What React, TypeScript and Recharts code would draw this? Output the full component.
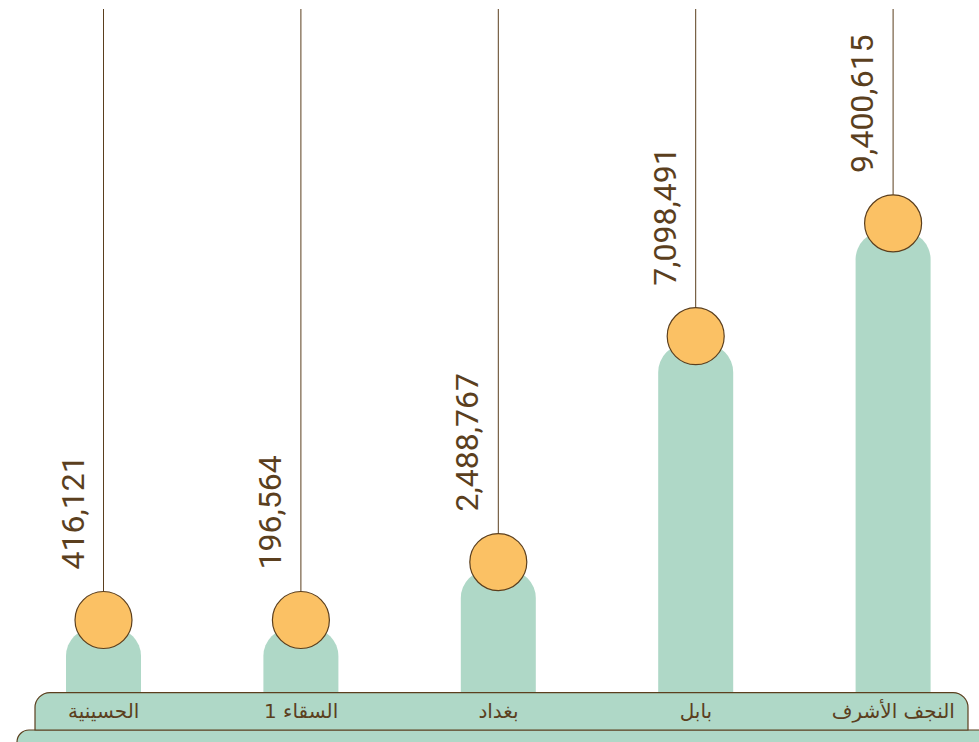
import React from "react";
import { BarChart, Bar, XAxis, YAxis } from "recharts";

const categories = ["الحسينية", "السقاء 1", "بغداد", "بابل", "النجف الأشرف"];
const values = [416121, 196564, 2488767, 7098491, 9400615];

const data = categories.map((name, i) => ({ name, value: values[i] }));

const GREEN = "#afd8c7";
const ORANGE = "#fbc164";
const BROWN = "#5b3f1e";

const BarShape = (props: any) => {
  const { x, y, width, height, payload } = props;
  const cx = x + width / 2;
  const r = Math.min(28, width / 2);
  const bottom = y + height;
  const path = `M${x},${bottom} L${x},${y + r} A${r},${r} 0 0 1 ${x + r},${y} L${x + width - r},${y} A${r},${r} 0 0 1 ${x + width},${y + r} L${x + width},${bottom} Z`;
  const cy = y - 8;
  const cr = 28.5;
  const label = Number(payload.value).toLocaleString("en-US");
  const tx = cx - 20;
  const ty = cy - cr - 22;
  return (
    <g>
      <path d={path} fill={GREEN} />
      <line x1={cx} y1={9} x2={cx} y2={cy - cr} stroke={BROWN} strokeWidth={1} />
      <circle cx={cx} cy={cy} r={cr} fill={ORANGE} stroke={BROWN} strokeWidth={1.2} />
      <text
        x={tx}
        y={ty}
        transform={`rotate(-90 ${tx} ${ty})`}
        textAnchor="start"
        fontFamily="Roboto, sans-serif"
        fontSize={32}
        fill={BROWN}
      >
        {label}
      </text>
    </g>
  );
};

const Tick = (props: any) => {
  const { x, y, payload } = props;
  return (
    <text
      x={x}
      y={y + 19}
      textAnchor="middle"
      dominantBaseline="central"
      fontFamily="'DejaVu Sans', sans-serif"
      fontSize={20}
      fill={BROWN}
    >
      {payload.value}
    </text>
  );
};

export default function App() {
  return (
    <div style={{ position: "absolute", left: 0, top: 0, width: 979, height: 742, overflow: "hidden", background: "#fff" }}>
      <svg width={979} height={742} style={{ position: "absolute", left: 0, top: 0 }}>
        <path
          d="M17,746 L17,742 A12,12 0 0 1 29,730 L990,730 L990,746 Z"
          fill={GREEN}
          stroke={BROWN}
          strokeWidth={1.2}
        />
        <path
          d="M35,730 L35,708 A15,15 0 0 1 50,692.6 L953,692.6 A15,15 0 0 1 968,708 L968,730 Z"
          fill={GREEN}
          stroke={BROWN}
          strokeWidth={1.2}
        />
      </svg>
      <div style={{ position: "absolute", left: 0, top: 0 }}>
        <BarChart width={992} height={742} data={data} margin={{ top: 202, right: 0, bottom: 0, left: 5 }}>
          <XAxis dataKey="name" axisLine={false} tickLine={false} tickSize={0} tickMargin={0} height={50} tick={<Tick />} interval={0} />
          <YAxis hide domain={[0, 10000000]} />
          <Bar dataKey="value" barSize={75} minPointSize={64} shape={<BarShape />} isAnimationActive={false} />
        </BarChart>
      </div>
    </div>
  );
}
